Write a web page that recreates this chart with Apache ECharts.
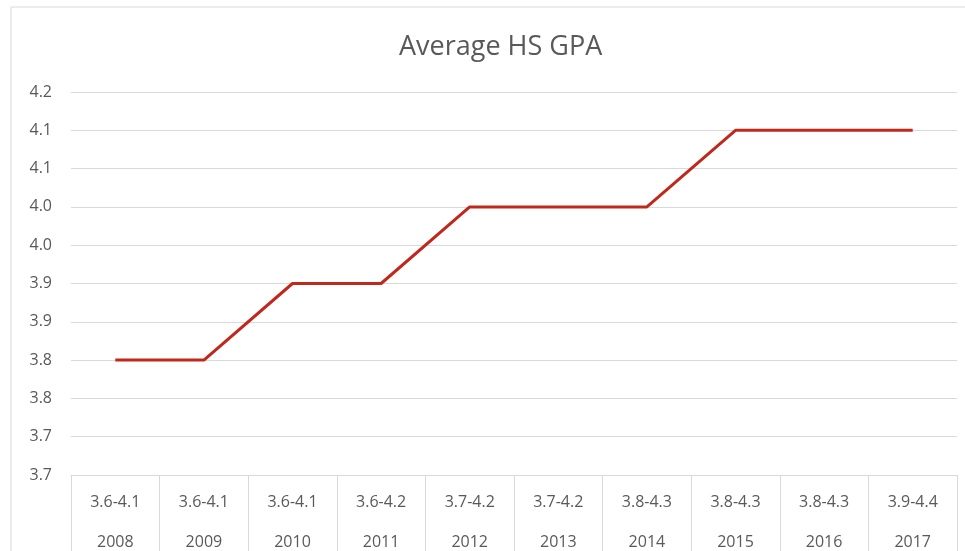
<!DOCTYPE html>
<html>
<head>
<meta charset="utf-8">
<script src="https://cdn.jsdelivr.net/npm/echarts@6/dist/echarts.min.js"></script>
<style>
  html, body { margin: 0; padding: 0; background: #fff; }
  #chart { width: 965px; height: 551px; }
</style>
</head>
<body>
<div id="chart"></div>
<script>
const ranges = ["3.6-4.1", "3.6-4.1", "3.6-4.1", "3.6-4.2", "3.7-4.2", "3.7-4.2", "3.8-4.3", "3.8-4.3", "3.8-4.3", "3.9-4.4"];
const years = ["2008", "2009", "2010", "2011", "2012", "2013", "2014", "2015", "2016", "2017"];
const gpa = [3.80, 3.80, 3.90, 3.90, 4.00, 4.00, 4.00, 4.10, 4.10, 4.10];
// Excel rounds the 0.05 steps to one decimal, so labels repeat
const yTickLabels = ["3.7", "3.7", "3.8", "3.8", "3.9", "3.9", "4.0", "4.0", "4.1", "4.1", "4.2"];

const yMin = 3.65;
const yStep = 0.05;

const chart = echarts.init(document.getElementById("chart"));

chart.setOption({
  animation: false,
  backgroundColor: "#fff",
  textStyle: { fontFamily: "Open Sans" },
  graphic: [
    {
      type: "rect",
      shape: { x: 11, y: 7, width: 970, height: 600 },
      style: { fill: "none", stroke: "#d9d9d9", lineWidth: 1 },
      silent: true,
    },
  ],
  title: {
    text: "Average HS GPA",
    left: 394,
    top: 29,
    textStyle: { color: "#595959", fontSize: 27, fontWeight: "normal", fontFamily: "Open Sans" },
  },
  grid: { left: 71, right: 8, top: 92, bottom: 76, outerBoundsMode: "none", containLabel: false },
  xAxis: {
    type: "category",
    data: years.map((y, i) => ranges[i] + "\n" + y),
    boundaryGap: true,
    axisLine: { show: true, lineStyle: { color: "#d9d9d9", width: 1 } },
    axisTick: { show: true, length: 90, lineStyle: { color: "#d9d9d9", width: 1 } },
    axisLabel: {
      margin: 7,
      interval: 0,
      color: "#595959",
      fontSize: 16,
      lineHeight: 40,
    },
    splitLine: { show: false },
  },
  yAxis: {
    type: "value",
    min: yMin,
    max: 4.15,
    interval: yStep,
    axisLine: { show: false },
    axisTick: { show: false },
    axisLabel: {
      color: "#595959",
      fontSize: 16,
      margin: 19,
      formatter: (v) => yTickLabels[Math.round((v - yMin) / yStep)],
    },
    splitLine: { lineStyle: { color: "#d9d9d9", width: 1 } },
  },
  series: [
    {
      type: "line",
      data: gpa,
      symbol: "none",
      lineStyle: { color: "#c0281c", width: 3 },
    },
  ],
});
</script>
</body>
</html>
